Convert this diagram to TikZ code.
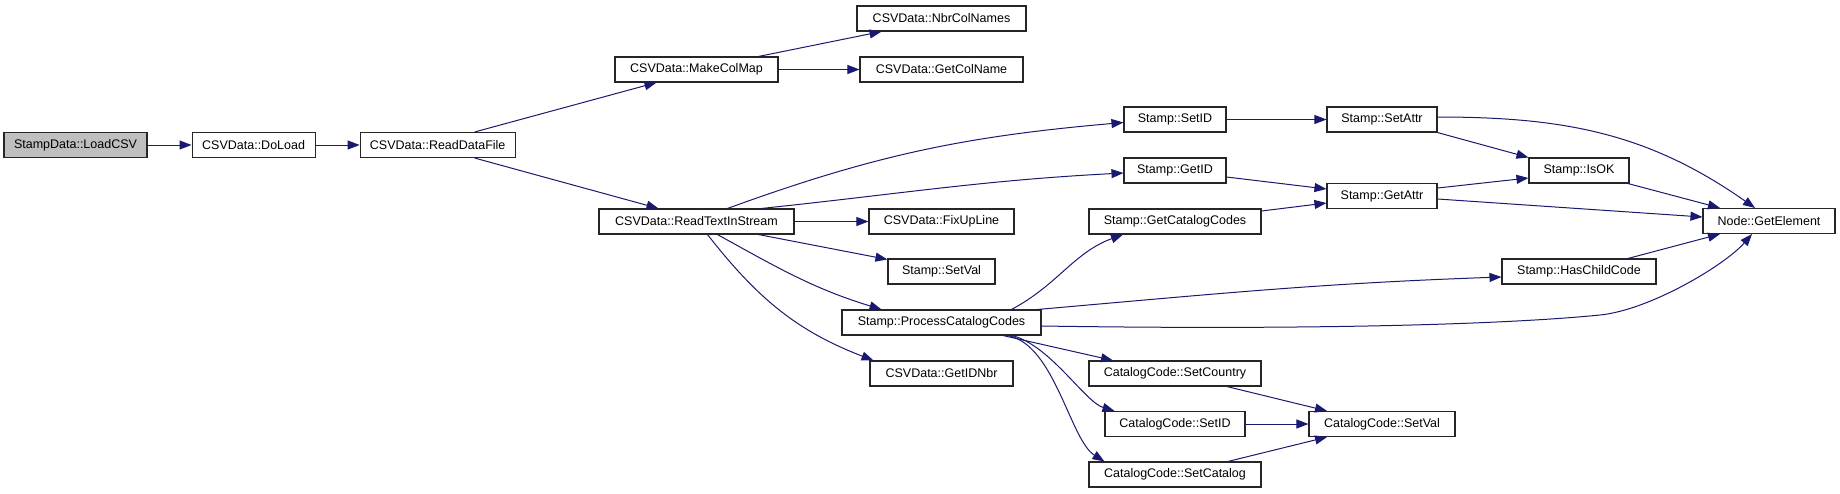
\documentclass[tikz,border=0pt]{standalone}
\usepackage{fontspec}
\setmainfont{Liberation Sans}
\usetikzlibrary{arrows.meta, positioning}
\definecolor{EdgeBlue}{RGB}{25, 25, 112}
\definecolor{RootGray}{RGB}{191, 191, 191}

\begin{document}
\begin{tikzpicture}[
    x=1pt, y=-1pt,
    every node/.style={font=\fontsize{12.5}{14}\selectfont, align=center},
    fnbox/.style={rectangle, draw=black!85, fill=white, line width=1.1pt, inner xsep=2pt, inner ysep=0pt, minimum height=25pt, minimum width=#1},
    rootbox/.style={fnbox=#1, fill=RootGray},
    call/.style={-{Triangle[length=12pt, width=9pt]}, draw=EdgeBlue, line width=1pt}
  ]
    \useasboundingbox (0,0) rectangle (1840,493);

    % Column 1-3: entry chain
    \node[rootbox=143pt] (load) at (75.5,145) {StampData::LoadCSV};
    \node[fnbox=123pt, right=44pt of load] (doload) {CSVData::DoLoad};
    \node[fnbox=155pt, right=44pt of doload] (rdf) {CSVData::ReadDataFile};

    % Column 4: readers
    \node[fnbox=163pt] (mcm) at (696.5,69.5) {CSVData::MakeColMap};
    \node[fnbox=195pt] (rtis) at (696.5,221.5) {CSVData::ReadTextInStream};

    % Column 5: CSV helpers
    \node[fnbox=169pt] (nbr) at (941.5,18.5) {CSVData::NbrColNames};
    \node[fnbox=163pt] (gcn) at (941.5,69.5) {CSVData::GetColName};
    \node[fnbox=145pt] (fix) at (941.5,221.5) {CSVData::FixUpLine};
    \node[fnbox=107pt] (ssv) at (941.5,271.5) {Stamp::SetVal};
    \node[fnbox=199pt] (pcc) at (941.5,322.5) {Stamp::ProcessCatalogCodes};
    \node[fnbox=143pt] (gidn) at (941.5,373.5) {CSVData::GetIDNbr};

    % Column 6: stamp and catalog setters
    \node[fnbox=102pt] (sid) at (1175,119.5) {Stamp::SetID};
    \node[fnbox=102pt] (gid) at (1175,170.5) {Stamp::GetID};
    \node[fnbox=172pt] (gcc) at (1175,221.5) {Stamp::GetCatalogCodes};
    \node[fnbox=172pt] (ccountry) at (1175,373.5) {CatalogCode::SetCountry};
    \node[fnbox=140pt] (cid) at (1175,424) {CatalogCode::SetID};
    \node[fnbox=172pt] (ccat) at (1175,474.5) {CatalogCode::SetCatalog};

    % Column 7: attributes
    \node[fnbox=110pt] (sattr) at (1382,119.5) {Stamp::SetAttr};
    \node[fnbox=110pt] (gattr) at (1382,196) {Stamp::GetAttr};
    \node[fnbox=146pt] (cval) at (1382,424) {CatalogCode::SetVal};

    % Column 8-9: checks and element access
    \node[fnbox=100pt] (isok) at (1579,170.5) {Stamp::IsOK};
    \node[fnbox=154pt] (hcc) at (1579,271.5) {Stamp::HasChildCode};
    \node[fnbox=132pt] (elem) at (1769,221) {Node::GetElement};

    % Connections
    \draw[call] (load) -- (doload);
    \draw[call] (doload) -- (rdf);
    \draw[call] ([xshift=37pt]rdf.north) -- ([xshift=-40pt]mcm.south);
    \draw[call] ([xshift=37pt]rdf.south) -- ([xshift=-38pt]rtis.north);
    \draw[call] ([xshift=62pt]mcm.north) -- ([xshift=-60pt]nbr.south);
    \draw[call] (mcm) -- (gcn);
    \draw[call] ([xshift=31pt]rtis.north) to[out=20, in=185] ([yshift=-3pt]sid.west);
    \draw[call] ([xshift=65pt]rtis.north) to[out=6, in=183] ([yshift=-2.5pt]gid.west);
    \draw[call] (rtis) -- (fix);
    \draw[call] ([xshift=62pt]rtis.south) -- ([yshift=-1pt]ssv.north west);
    \draw[call] ([xshift=21pt]rtis.south) to[out=-29, in=163] ([xshift=-60pt]pcc.north);
    \draw[call] ([xshift=11pt]rtis.south) to[out=-52, in=159] ([xshift=-68pt]gidn.north);
    \draw[call] (sid) -- (sattr);
    \draw[call] ([yshift=-6.5pt]gid.east) -- ([yshift=7pt]gattr.west);
    \draw[call] ([yshift=10.5pt]gcc.east) -- ([yshift=-7pt]gattr.west);
    \draw[call] ([xshift=70pt]pcc.north) to[out=28, in=200] ([xshift=-52pt]gcc.south);
    \draw[call] ([xshift=-4pt]pcc.north east) to[out=5, in=182] ([yshift=-5.5pt]hcc.west);
    \draw[call] ([yshift=-3.5pt]pcc.east) .. controls (1300,330) and (1500,325) .. (1600,315)
      .. controls (1650,310) and (1725,265) .. ([xshift=-17pt]elem.south);
    \draw[call] ([xshift=61.5pt]pcc.south) -- ([xshift=-62pt]ccountry.north);
    \draw[call] ([xshift=70.5pt]pcc.south) .. controls (1050,345) and (1085,402) .. ([xshift=10pt]cid.north west);
    \draw[call] ([xshift=66.5pt]pcc.south) .. controls (1055,345) and (1070,440) .. ([xshift=16pt]ccat.north west);
    \draw[call] ([yshift=2.5pt]sattr.east) to[out=0, in=145] ([xshift=-14pt]elem.north);
    \draw[call] (sattr.south east) -- (isok.north west);
    \draw[call] ([yshift=8pt]gattr.east) -- ([yshift=-7.5pt]isok.west);
    \draw[call] ([yshift=-3pt]gattr.east) -- ([yshift=4pt]elem.west);
    \draw[call] ([xshift=49pt]isok.south) -- ([xshift=-49pt]elem.north);
    \draw[call] ([xshift=49pt]hcc.north) -- ([xshift=-49pt]elem.south);
    \draw[call] ([xshift=52pt]ccountry.south) -- ([xshift=-55pt]cval.north);
    \draw[call] (cid) -- (cval);
    \draw[call] ([xshift=53pt]ccat.north) -- ([xshift=-55pt]cval.south);
  \end{tikzpicture}
\end{document}
